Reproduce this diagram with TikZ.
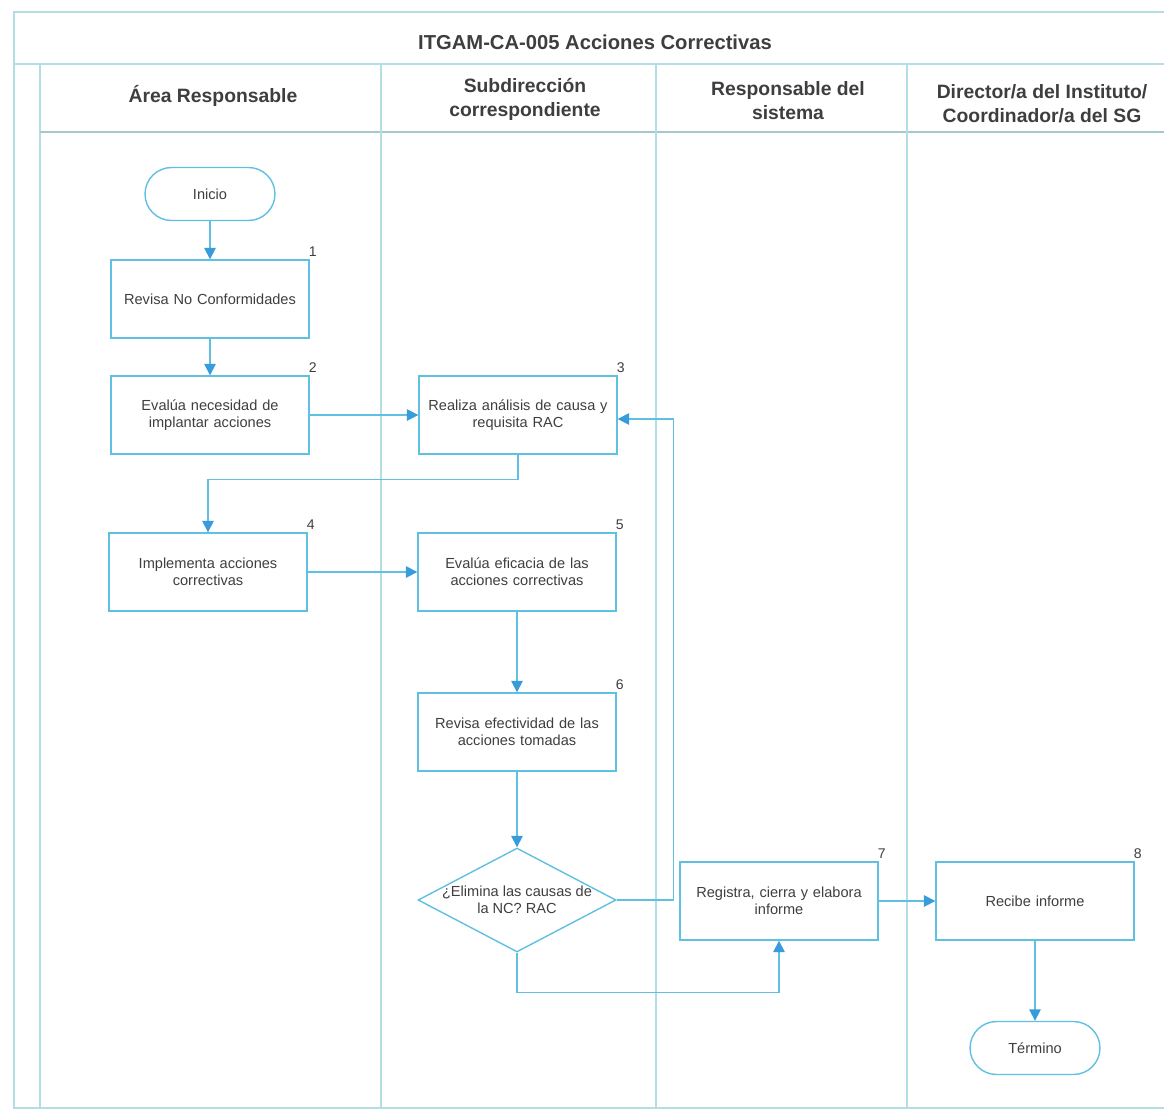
\documentclass[tikz,border=0pt]{standalone}
\usepackage{fontspec}
\setmainfont{Liberation Sans}
\usepackage{tikz}
\usetikzlibrary{shapes.geometric,arrows.meta,calc}
\definecolor{flowblue}{RGB}{95,192,226}
\definecolor{tipblue}{RGB}{55,155,220}
\definecolor{laneline}{RGB}{178,222,228}
\definecolor{headline}{RGB}{165,200,205}
\definecolor{textgrey}{RGB}{62,62,62}
\tikzset{
	% Node styles for the flow chart: steps, start/end and the question
	process box/.style={rectangle,draw=flowblue,line width=0.8pt,minimum width=3.96cm,minimum height=1.56cm,
		align=center,text width=3.6cm,text=textgrey,font=\fontsize{8.3}{9.6}\selectfont},
	terminal box/.style={rectangle,rounded corners=0.53cm,draw=flowblue,line width=0.8pt,minimum width=2.6cm,
		minimum height=1.06cm,text=textgrey,font=\fontsize{8.3}{9.6}\selectfont},
	decision box/.style={diamond,draw=flowblue,line width=0.8pt,minimum width=3.96cm,minimum height=2.08cm,inner sep=0pt},
	lane head/.style={align=center,font=\bfseries\fontsize{11}{13.6}\selectfont,text=textgrey},
	flow/.style={draw=flowblue,line width=0.9pt,-{Triangle[length=6.5pt,width=6.5pt,color=tipblue]}}
}

\begin{document}
\begin{tikzpicture}[x=0.02cm,y=-0.02cm]
	% macro for the step numbers at the upper right corner of a box
	\newcommand{\stepnum}[2]{\node[anchor=south,font=\fontsize{8}{9}\selectfont,text=textgrey,inner sep=1.5pt,xshift=0.06cm] (n#2) at (#1.north east){#2};}
	\useasboundingbox (0,0) rectangle (1164,1110);
	
	% Frame of the swimlanes
	\draw[laneline,line width=0.9pt] (1164,12) -- (14,12) -- (14,1108) -- (1164,1108);
	\draw[laneline,line width=0.9pt] (14,64) -- (1164,64);
	\draw[laneline,line width=0.9pt] (40,64) -- (40,1108);
	\draw[headline,line width=1.6pt] (40,132) -- (1164,132);
	\foreach \xl in {381,656,907}
		\draw[laneline,line width=0.9pt] (\xl,64) -- (\xl,1108);
	
	\node[font=\bfseries\fontsize{11.5}{13.6}\selectfont,text=textgrey] (title) at (595,42) {ITGAM-CA-005 Acciones Correctivas};
	\node[lane head] (lane1) at (213,96) {Área Responsable};
	\node[lane head] (lane2) at (525,99) {Subdirección\\correspondiente};
	\node[lane head] (lane3) at (788,101) {Responsable del\\sistema};
	\node[lane head] (lane4) at (1042,104) {Director/a del Instituto/\\Coordinador/a del SG};
	
	% Steps
	\node[terminal box] (inicio) at (210,194) {Inicio};
	\node[process box] (r1) at (210,299) {Revisa No Conformidades};
	\node[process box] (r2) at (210,415) {Evalúa necesidad de\\implantar acciones};
	\node[process box] (r3) at (518,415) {Realiza análisis de causa y\\requisita RAC};
	\node[process box] (r4) at (208,572) {Implementa acciones\\correctivas};
	\node[process box] (r5) at (517,572) {Evalúa eficacia de las\\acciones correctivas};
	\node[process box] (r6) at (517,732) {Revisa efectividad de las\\acciones tomadas};
	\node[decision box,label={[align=center,text=textgrey,font=\fontsize{8.3}{9.6}\selectfont]center:{¿Elimina las causas de\\la NC? RAC}}] (dec) at (517,900) {};
	\node[process box] (r7) at (779,901) {Registra, cierra y elabora\\informe};
	\node[process box] (r8) at (1035,901) {Recibe informe};
	\node[terminal box] (termino) at (1035,1048) {Término};
	
	\stepnum{r1}{1}
	\stepnum{r2}{2}
	\stepnum{r3}{3}
	\stepnum{r4}{4}
	\stepnum{r5}{5}
	\stepnum{r6}{6}
	\stepnum{r7}{7}
	\stepnum{r8}{8}
	
	% Connectors
	\draw[flow] (inicio) -- (r1);
	\draw[flow] (r1) -- (r2);
	\draw[flow] (r2) -- (r3);
	\draw[flow] (r3.south) -- ++(0,25) -| (r4.north);
	\draw[flow] (r4) -- (r5);
	\draw[flow] (r5) -- (r6);
	\draw[flow] (r6) -- (dec);
	\draw[flow] (dec.east) -- ++(57,0) |- ($(r3.east)+(0,4)$);
	\draw[flow] (dec.south) -- ++(0,40) -| (r7.south);
	\draw[flow] (r7) -- (r8);
	\draw[flow] (r8) -- (termino);
\end{tikzpicture}
\end{document}
